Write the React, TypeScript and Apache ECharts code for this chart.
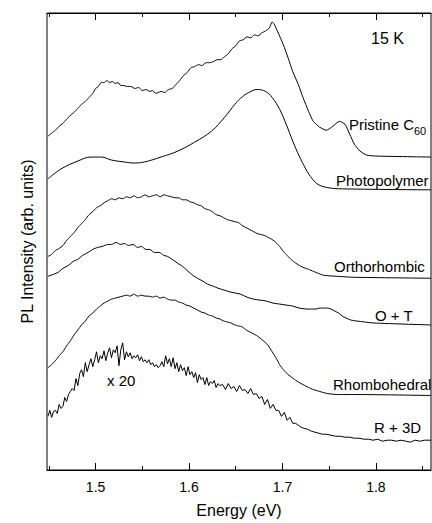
import React, { useEffect, useRef } from "react";
import * as echarts from "echarts";

const FONT = '"Liberation Sans", Arial, Helvetica, sans-serif';
const X_MIN = 1.448;
const X_MAX = 1.859;
const Y_MAX = 460;

const majorTicks = [1.5, 1.6, 1.7, 1.8];
const minorTicks = [1.45, 1.55, 1.65, 1.75, 1.85];

// [energy (eV), PL intensity (arb. units, vertically offset traces)]
const pristineC60 = [
  [1.449, 336], [1.453, 339], [1.457, 342], [1.461, 346], [1.465, 349], [1.469, 353],
  [1.473, 357], [1.477, 360], [1.481, 364], [1.485, 368], [1.489, 371], [1.493, 375],
  [1.497, 379], [1.500, 384], [1.503, 386], [1.506, 390], [1.509, 390], [1.512, 392],
  [1.515, 390], [1.518, 391], [1.521, 389], [1.524, 390], [1.527, 387], [1.530, 387],
  [1.534, 386], [1.538, 386], [1.542, 384], [1.546, 385], [1.550, 382], [1.554, 383],
  [1.558, 381], [1.561, 382], [1.564, 379], [1.567, 380], [1.570, 381], [1.574, 380],
  [1.578, 383], [1.582, 384], [1.586, 388], [1.590, 392], [1.594, 397], [1.598, 400],
  [1.602, 405], [1.606, 406], [1.610, 408], [1.614, 407], [1.618, 410], [1.622, 410],
  [1.626, 411], [1.630, 413], [1.634, 413], [1.638, 416], [1.642, 419], [1.646, 424],
  [1.650, 427], [1.654, 432], [1.658, 433], [1.662, 436], [1.666, 435], [1.670, 438],
  [1.674, 437], [1.678, 440], [1.682, 442], [1.686, 445], [1.689, 451], [1.691, 449],
  [1.695, 441], [1.701, 428], [1.706, 415], [1.711, 401], [1.717, 388], [1.722, 375],
  [1.728, 361], [1.733, 351], [1.740, 345], [1.747, 342], [1.754, 346], [1.761, 351],
  [1.767, 348], [1.772, 338], [1.777, 328], [1.783, 321], [1.790, 317], [1.800, 316],
  [1.859, 315],
];

const photopolymer = [
  [1.449, 293], [1.463, 303], [1.481, 311], [1.495, 315], [1.506, 315], [1.517, 312],
  [1.531, 310], [1.542, 309], [1.552, 310], [1.570, 315], [1.588, 321], [1.606, 330],
  [1.624, 341], [1.638, 355], [1.649, 368], [1.655, 374], [1.664, 380], [1.673, 383],
  [1.682, 381], [1.689, 375], [1.697, 363], [1.704, 348], [1.711, 331], [1.718, 316],
  [1.725, 303], [1.732, 293], [1.739, 287], [1.750, 284], [1.764, 283], [1.859, 282],
];

const orthorhombic = [
  [1.449, 215], [1.453, 217], [1.457, 221], [1.461, 223], [1.465, 226], [1.469, 231],
  [1.473, 235], [1.477, 239], [1.481, 244], [1.485, 248], [1.489, 252], [1.493, 257],
  [1.497, 260], [1.501, 264], [1.505, 266], [1.509, 269], [1.513, 271], [1.517, 273],
  [1.521, 272], [1.525, 274], [1.529, 273], [1.533, 275], [1.537, 274], [1.541, 276],
  [1.545, 274], [1.549, 275], [1.553, 277], [1.557, 275], [1.561, 276], [1.565, 277],
  [1.569, 275], [1.573, 277], [1.577, 276], [1.581, 275], [1.585, 274], [1.589, 274],
  [1.593, 272], [1.597, 272], [1.601, 270], [1.605, 269], [1.609, 267], [1.613, 266],
  [1.617, 263], [1.621, 262], [1.625, 260], [1.629, 257], [1.633, 256], [1.637, 254],
  [1.641, 252], [1.645, 251], [1.649, 250], [1.653, 249], [1.657, 246], [1.661, 244],
  [1.665, 242], [1.669, 240], [1.673, 238], [1.677, 237], [1.681, 236], [1.685, 234],
  [1.689, 232], [1.693, 229], [1.697, 225], [1.701, 220], [1.705, 216], [1.709, 212],
  [1.713, 209], [1.718, 206], [1.722, 204], [1.728, 202], [1.733, 200], [1.744, 196],
  [1.758, 195], [1.776, 194], [1.859, 193],
];

const orthoPlusT = [
  [1.449, 195], [1.455, 197], [1.460, 199], [1.465, 203], [1.471, 206], [1.476, 210],
  [1.481, 212], [1.486, 216], [1.492, 219], [1.497, 222], [1.502, 224], [1.507, 225],
  [1.513, 227], [1.517, 227], [1.522, 229], [1.527, 227], [1.531, 228], [1.535, 226],
  [1.540, 227], [1.545, 224], [1.549, 225], [1.554, 222], [1.558, 222], [1.563, 219],
  [1.568, 219], [1.573, 216], [1.577, 215], [1.582, 212], [1.588, 208], [1.593, 205],
  [1.599, 200], [1.604, 196], [1.609, 193], [1.615, 190], [1.620, 187], [1.626, 185],
  [1.631, 183], [1.638, 181], [1.645, 179], [1.655, 177], [1.662, 174], [1.669, 172],
  [1.676, 171], [1.683, 170], [1.690, 168], [1.697, 167], [1.704, 166], [1.711, 165],
  [1.718, 163], [1.726, 162], [1.731, 162], [1.736, 162], [1.740, 163], [1.744, 163],
  [1.748, 163], [1.752, 162], [1.756, 160], [1.760, 158], [1.764, 155], [1.768, 153],
  [1.773, 151], [1.779, 150], [1.788, 149], [1.797, 148], [1.859, 146],
];

const rhombohedral = [
  [1.449, 103], [1.453, 106], [1.457, 110], [1.461, 115], [1.465, 119], [1.469, 125],
  [1.473, 130], [1.477, 136], [1.481, 141], [1.485, 146], [1.489, 150], [1.493, 155],
  [1.497, 158], [1.501, 162], [1.505, 165], [1.509, 168], [1.513, 170], [1.517, 172],
  [1.521, 173], [1.525, 174], [1.529, 175], [1.533, 176], [1.537, 175], [1.541, 177],
  [1.545, 175], [1.549, 176], [1.553, 175], [1.557, 175], [1.561, 174], [1.565, 175],
  [1.569, 173], [1.573, 174], [1.577, 172], [1.581, 171], [1.585, 171], [1.589, 169],
  [1.593, 168], [1.597, 166], [1.601, 165], [1.605, 163], [1.609, 161], [1.613, 159],
  [1.617, 158], [1.621, 156], [1.625, 155], [1.629, 153], [1.633, 152], [1.637, 150],
  [1.641, 149], [1.645, 148], [1.649, 146], [1.653, 145], [1.657, 144], [1.661, 141],
  [1.665, 139], [1.669, 137], [1.673, 135], [1.677, 132], [1.681, 129], [1.685, 125],
  [1.689, 119], [1.693, 113], [1.697, 106], [1.701, 101], [1.705, 97], [1.709, 94],
  [1.713, 91], [1.718, 88], [1.722, 86], [1.728, 83], [1.733, 81], [1.740, 79],
  [1.748, 77], [1.758, 76], [1.776, 76], [1.859, 75],
];

const rPlus3D = [
  [1.449, 54], [1.451, 60], [1.453, 53], [1.455, 59], [1.457, 60], [1.459, 57],
  [1.461, 66], [1.463, 62], [1.465, 64], [1.467, 73], [1.469, 69], [1.471, 76],
  [1.473, 79], [1.475, 82], [1.477, 80], [1.479, 92], [1.481, 85], [1.483, 97],
  [1.485, 101], [1.487, 94], [1.489, 108], [1.491, 99], [1.493, 106], [1.495, 112],
  [1.497, 104], [1.499, 111], [1.501, 119], [1.503, 108], [1.505, 115], [1.507, 112],
  [1.509, 120], [1.511, 110], [1.513, 118], [1.515, 123], [1.517, 113], [1.519, 121],
  [1.521, 118], [1.523, 125], [1.525, 105], [1.527, 121], [1.529, 128], [1.531, 111],
  [1.533, 119], [1.535, 114], [1.537, 118], [1.539, 112], [1.541, 115], [1.543, 113],
  [1.545, 116], [1.547, 110], [1.549, 114], [1.551, 109], [1.553, 111], [1.555, 108],
  [1.557, 111], [1.559, 106], [1.561, 108], [1.563, 104], [1.565, 106], [1.567, 103],
  [1.569, 105], [1.571, 109], [1.573, 104], [1.575, 115], [1.577, 107], [1.579, 112],
  [1.581, 104], [1.583, 113], [1.585, 102], [1.587, 108], [1.589, 99], [1.591, 106],
  [1.593, 100], [1.595, 103], [1.597, 95], [1.599, 104], [1.601, 96], [1.603, 99],
  [1.605, 93], [1.607, 98], [1.609, 88], [1.611, 96], [1.613, 91], [1.615, 93],
  [1.617, 86], [1.619, 93], [1.621, 85], [1.623, 89], [1.625, 87], [1.627, 90],
  [1.629, 83], [1.631, 87], [1.633, 85], [1.636, 86], [1.639, 81], [1.642, 87],
  [1.645, 82], [1.648, 84], [1.651, 79], [1.654, 85], [1.657, 80], [1.660, 81],
  [1.663, 77], [1.666, 82], [1.669, 76], [1.672, 77], [1.675, 72], [1.678, 74],
  [1.681, 66], [1.684, 71], [1.687, 62], [1.690, 66], [1.693, 60], [1.696, 60],
  [1.699, 54], [1.702, 58], [1.705, 50], [1.708, 53], [1.711, 47], [1.714, 47],
  [1.717, 45], [1.720, 43], [1.723, 42], [1.727, 41], [1.731, 39], [1.735, 38],
  [1.739, 37], [1.743, 36], [1.747, 36], [1.752, 35], [1.757, 34], [1.762, 34],
  [1.767, 33], [1.772, 33], [1.777, 32], [1.782, 32], [1.787, 31], [1.792, 31],
  [1.797, 30], [1.802, 31], [1.807, 29], [1.812, 30], [1.817, 30], [1.822, 29],
  [1.827, 30], [1.832, 29], [1.837, 28], [1.842, 30], [1.847, 29], [1.852, 30],
  [1.859, 30],
];

const traces = [
  { name: "Pristine C60", data: pristineC60, smooth: 0.2 },
  { name: "Photopolymer", data: photopolymer, smooth: 0.4 },
  { name: "Orthorhombic", data: orthorhombic, smooth: 0.2 },
  { name: "O + T", data: orthoPlusT, smooth: 0.3 },
  { name: "Rhombohedral", data: rhombohedral, smooth: 0.2 },
  { name: "R + 3D", data: rPlus3D, smooth: 0 },
];

function txt(text: string, x: number, y: number, size: number) {
  return {
    type: "text",
    x,
    y,
    silent: true,
    style: {
      text,
      fill: "#000",
      fontSize: size,
      fontFamily: FONT,
      textAlign: "left",
      align: "left",
      textVerticalAlign: "middle",
      verticalAlign: "middle",
    },
  };
}

function xAxisDef(position: "top" | "bottom", ticks: number[], len: number, main: boolean) {
  return {
    type: "value",
    min: X_MIN,
    max: X_MAX,
    position,
    axisLine: { show: main, lineStyle: { color: "#000", width: 1 } },
    axisTick: {
      show: true,
      inside: true,
      length: len,
      customValues: ticks,
      lineStyle: { color: "#000", width: 1 },
    },
    axisLabel: {
      show: main && position === "bottom",
      customValues: ticks,
      formatter: (v: number) => v.toFixed(1),
      color: "#000",
      fontSize: 14,
      fontFamily: FONT,
      margin: 10,
    },
    splitLine: { show: false },
    ...(main && position === "bottom"
      ? {
          name: "Energy (eV)",
          nameLocation: "middle",
          nameGap: 32,
          nameTextStyle: { color: "#000", fontSize: 16, fontFamily: FONT },
        }
      : {}),
  };
}

export default function App() {
  const ref = useRef<HTMLDivElement>(null);
  useEffect(() => {
    const chart = echarts.init(ref.current!, null, { renderer: "svg" });
    const option: any = {
      animation: false,
      backgroundColor: "#fff",
      grid: {
        left: 47,
        right: 1,
        top: 13,
        bottom: 50,
        show: true,
        borderColor: "#000",
        borderWidth: 1,
        containLabel: false,
      },
      xAxis: [
        xAxisDef("bottom", majorTicks, 7, true),
        xAxisDef("bottom", minorTicks, 4, false),
        xAxisDef("top", majorTicks, 7, true),
        xAxisDef("top", minorTicks, 4, false),
      ],
      yAxis: {
        type: "value",
        min: 0,
        max: Y_MAX,
        axisLine: { show: false },
        axisTick: { show: false },
        axisLabel: { show: false },
        splitLine: { show: false },
        name: "PL Intensity (arb. units)",
        nameLocation: "middle",
        nameGap: 12,
        nameTextStyle: { color: "#000", fontSize: 16, fontFamily: FONT },
      },
      series: traces.map((t) => ({
        type: "line",
        name: t.name,
        data: t.data,
        xAxisIndex: 0,
        yAxisIndex: 0,
        showSymbol: false,
        symbol: "none",
        smooth: t.smooth,
        clip: true,
        lineStyle: { color: "#000", width: 1 },
      })),
      graphic: [
        txt("15 K", 371, 38, 16),
        txt("Pristine C", 349, 124, 15),
        txt("60", 414, 131, 11),
        txt("Photopolymer", 336, 180, 15),
        txt("Orthorhombic", 334, 266, 15),
        txt("O + T", 375, 315, 15),
        txt("Rhombohedral", 333, 384, 15),
        txt("R + 3D", 374, 427, 15),
        txt("x 20", 107, 380, 15),
      ],
    };
    chart.setOption(option);
    return () => chart.dispose();
  }, []);
  return (
    <div
      ref={ref}
      style={{ position: "fixed", left: 0, top: 0, width: 432, height: 523, background: "#fff" }}
    />
  );
}
